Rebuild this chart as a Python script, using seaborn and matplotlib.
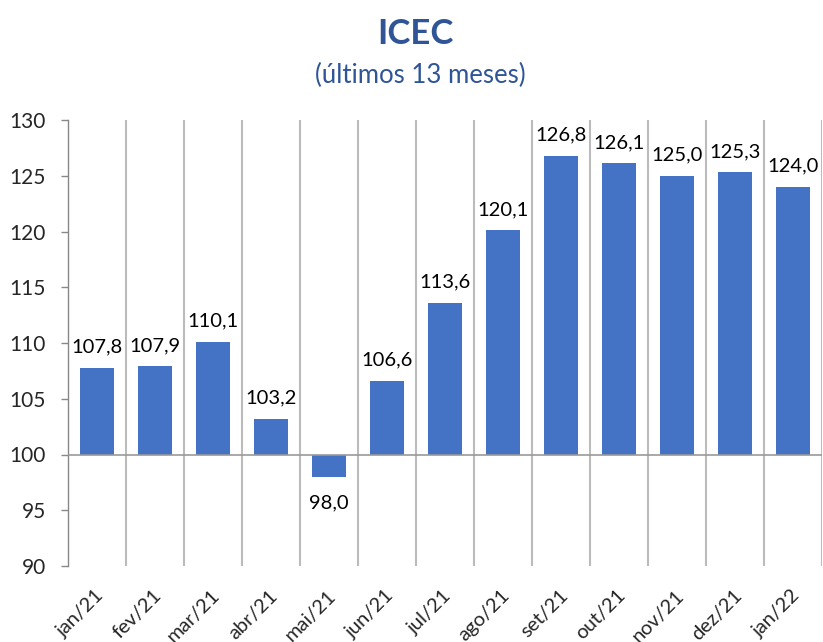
import matplotlib
matplotlib.use("Agg")
import matplotlib.pyplot as plt
import matplotlib.transforms as mtransforms
import seaborn as sns
import pandas as pd
import numpy as np

months = ["jan/21", "fev/21", "mar/21", "abr/21", "mai/21", "jun/21", "jul/21",
          "ago/21", "set/21", "out/21", "nov/21", "dez/21", "jan/22"]
values = [107.8, 107.9, 110.1, 103.2, 98.0, 106.6, 113.6,
          120.1, 126.8, 126.1, 125.0, 125.3, 124.0]
base = 100

sns.set_theme(style="white")
plt.rcParams['font.family'] = ['Lato', 'DejaVu Sans']

df = pd.DataFrame({"mes": months, "delta": [v - base for v in values]})

fig = plt.figure(figsize=(8.23, 6.42), dpi=100)
ax = fig.add_axes([68/823, 1-566/642, (822-68)/823, (566-120)/642])

sns.barplot(data=df, x="mes", y="delta", ax=ax, color="#4472C4", width=0.57,
            saturation=1, bottom=base, edgecolor="none")

ax.set_ylim(90, 130)
ax.set_xlim(-0.5, len(months) - 0.5)
ax.set_yticks(np.arange(90, 131, 5))
ax.tick_params(axis="y", labelsize=15, length=5, width=1, color="#888888", pad=11, left=True)
ax.tick_params(axis="x", labelsize=14.5, length=0, pad=15)
ax.set_xticks(range(len(months)))
ax.set_xticklabels(months, rotation=45, ha="right", rotation_mode="anchor")
ax.set_xlabel("")
ax.set_ylabel("")

for s in ["top", "right", "bottom"]:
    ax.spines[s].set_visible(False)
ax.spines["left"].set_color("#888888")
ax.spines["left"].set_linewidth(1)

# vertical gridlines at category boundaries
for b in np.arange(0.5, len(months) - 0.5 + 0.01, 1):
    ax.axvline(b, color="#BBBBBB", lw=1.5, zorder=0)
ax.axhline(base, color="#999999", lw=1.2, zorder=3)

for i, v in enumerate(values):
    txt = f"{v:.1f}".replace(".", ",")
    if v >= base:
        ax.annotate(txt, (i, v), xytext=(0, 11), textcoords="offset points",
                    ha="center", va="baseline", fontsize=14.5, color="black")
    else:
        ax.annotate(txt, (i, v), xytext=(0, -13), textcoords="offset points",
                    ha="center", va="top", fontsize=14.5, color="black")

fig.text(0.505, 0.947, "ICEC", ha="center", va="center", fontsize=25,
         fontweight="bold", color="#2F5597")
fig.text(0.511, 0.883, "(últimos 13 meses)", ha="center", va="center",
         fontsize=18.5, color="#2F5597")

offset = mtransforms.ScaledTranslation(-2/100, 0, fig.dpi_scale_trans)
for lbl in ax.get_xticklabels():
    lbl.set_transform(lbl.get_transform() + offset)

fig.savefig("out.png", dpi=100, facecolor="white")
